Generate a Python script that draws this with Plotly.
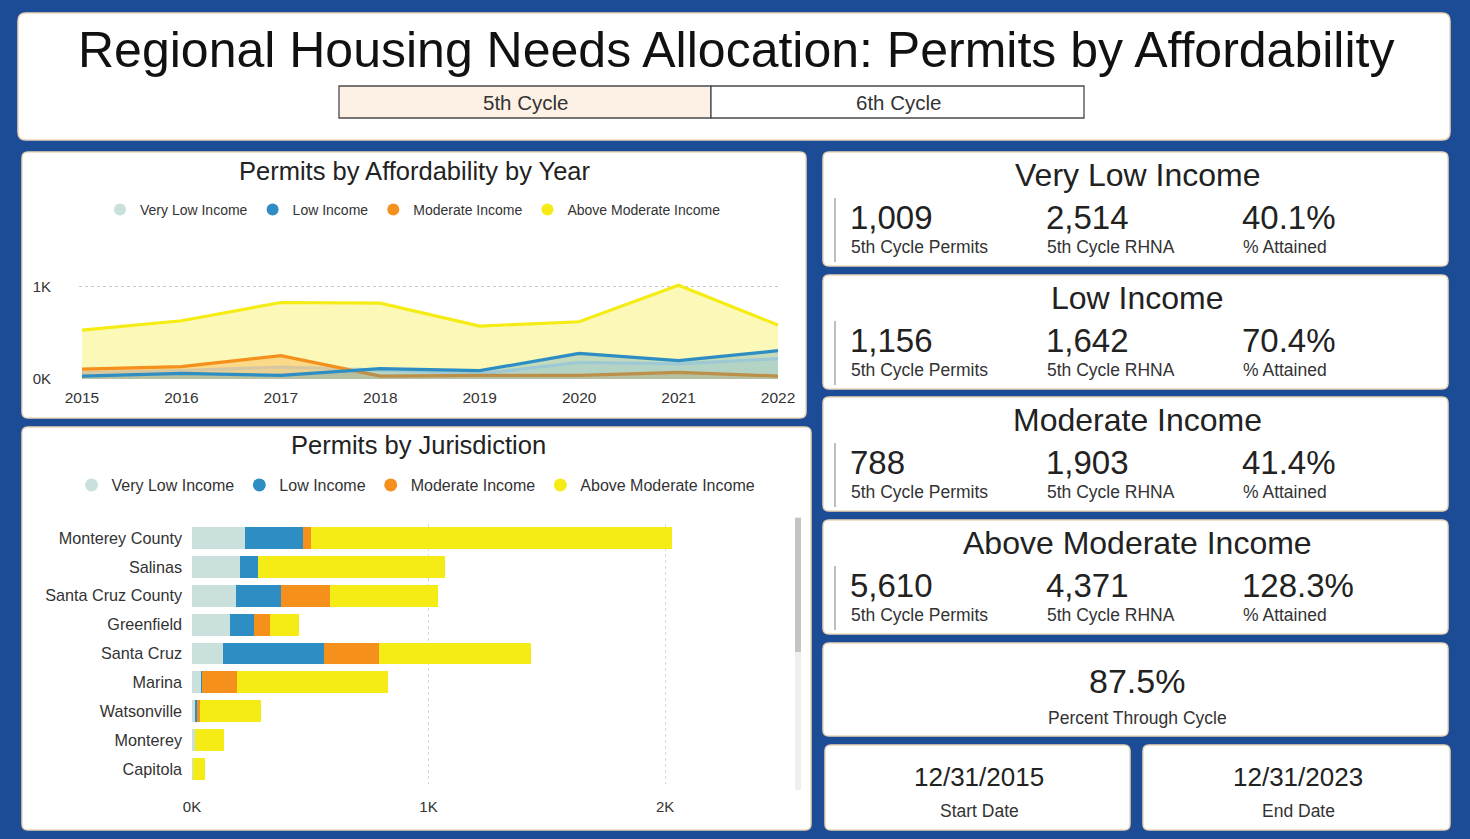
import plotly.graph_objects as go

# ---------------- data ----------------
years = [2015, 2016, 2017, 2018, 2019, 2020, 2021, 2022]
year_labels = ["2015", "2016", "2017", "2018", "2019", "2020", "2021", "2022"]
vli_year = [70, 90, 130, 100, 55, 180, 165, 220]
low_year = [32, 61, 40, 112, 90, 278, 199, 307]
mod_year = [108, 134, 253, 32, 40, 40, 72, 32]
ami_year = [531, 632, 830, 823, 574, 621, 1018, 585]

jurisdictions = ["Monterey County", "Salinas", "Santa Cruz County", "Greenfield",
                 "Santa Cruz", "Marina", "Watsonville", "Monterey", "Capitola"]
vli_j = [222, 203, 186, 162, 131, 39, 13, 13, 3]
low_j = [247, 77, 190, 100, 429, 5, 10, 0, 0]
mod_j = [35, 0, 209, 66, 231, 148, 10, 0, 0]
ami_j = [1526, 790, 454, 123, 644, 638, 258, 123, 52]

series_names = ["Very Low Income", "Low Income", "Moderate Income", "Above Moderate Income"]
series_colors = ["#c9e0dc", "#2e8ec3", "#f4901b", "#f4ec14"]
series_fills = ["rgba(201,224,220,0.40)", "rgba(46,142,195,0.28)",
                "rgba(244,144,27,0.30)", "rgba(244,236,20,0.30)"]

card_titles = ["Very Low Income", "Low Income", "Moderate Income", "Above Moderate Income"]
card_permits = ["1,009", "1,156", "788", "5,610"]
card_rhna = ["2,514", "1,642", "1,903", "4,371"]
card_attained = ["40.1%", "70.4%", "41.4%", "128.3%"]
card_sub = ["5th Cycle Permits", "5th Cycle RHNA", "% Attained"]

pct_through = "87.5%"
start_date = "12/31/2015"
end_date = "12/31/2023"

# ---------------- helpers ----------------
W, H = 1470, 839
FONT = "Arial, 'Liberation Sans', sans-serif"
BLUE = "#1d4c97"
DARK = "#222222"
GREY = "#333333"


def X(p):
    return p / W


def Y(p):
    return 1 - p / H


def rrect(x0, y0, x1, y1, r=6, fill="white", line="#ecd6b8", lw=1.5):
    path = (f"M {X(x0 + r)},{Y(y0)} L {X(x1 - r)},{Y(y0)} "
            f"Q {X(x1)},{Y(y0)} {X(x1)},{Y(y0 + r)} L {X(x1)},{Y(y1 - r)} "
            f"Q {X(x1)},{Y(y1)} {X(x1 - r)},{Y(y1)} L {X(x0 + r)},{Y(y1)} "
            f"Q {X(x0)},{Y(y1)} {X(x0)},{Y(y1 - r)} L {X(x0)},{Y(y0 + r)} "
            f"Q {X(x0)},{Y(y0)} {X(x0 + r)},{Y(y0)} Z")
    return dict(type="path", path=path, xref="paper", yref="paper",
                fillcolor=fill, line=dict(color=line, width=lw), layer="below")


def txt(x, y, s, size, color=DARK, anchor="center"):
    return dict(x=X(x), y=Y(y), xref="paper", yref="paper", text=s, showarrow=False,
                xanchor=anchor, yanchor="middle", font=dict(family=FONT, size=size, color=color))


fig = go.Figure()

# ---------------- line / area chart ----------------
year_series = [vli_year, low_year, mod_year, ami_year]
for i in [3, 0, 2, 1]:
    fig.add_trace(go.Scatter(
        x=years, y=year_series[i], mode="lines", name=series_names[i],
        line=dict(color=series_colors[i], width=3.2, shape="linear"),
        fill="tozeroy", fillcolor=series_fills[i], showlegend=False,
        xaxis="x", yaxis="y", hoverinfo="x+y+name"))

for i in range(4):
    fig.add_trace(go.Scatter(
        x=[None], y=[None], mode="markers", name=series_names[i],
        marker=dict(color=series_colors[i], size=12, symbol="circle"),
        legend="legend", xaxis="x", yaxis="y"))

# ---------------- stacked bar chart ----------------
jur_series = [vli_j, low_j, mod_j, ami_j]
for i in range(4):
    fig.add_trace(go.Bar(
        y=jurisdictions, x=jur_series[i], orientation="h", name=series_names[i],
        marker=dict(color=series_colors[i], line=dict(width=0)),
        showlegend=False, xaxis="x2", yaxis="y2"))

for i in range(4):
    fig.add_trace(go.Scatter(
        x=[None], y=[None], mode="markers", name=series_names[i],
        marker=dict(color=series_colors[i], size=13, symbol="circle"),
        legend="legend2", xaxis="x2", yaxis="y2"))

# ---------------- shapes (panels) ----------------
shapes = []
shapes.append(rrect(18, 13, 1450, 140, r=8))
shapes.append(rrect(22, 152, 806, 418))
shapes.append(rrect(22, 427, 811, 830))
card_tops = [152, 275, 397, 520]
for t in card_tops:
    shapes.append(rrect(823, t, 1448, t + 114))
shapes.append(rrect(823, 643, 1448, 736))
shapes.append(rrect(825, 745, 1130, 830))
shapes.append(rrect(1143, 745, 1450, 830))

# cycle buttons
shapes.append(dict(type="rect", xref="paper", yref="paper", x0=X(339), x1=X(711), y0=Y(86), y1=Y(118),
                   fillcolor="#fdf0e4", line=dict(color="#4a4a4a", width=1.3), layer="below"))
shapes.append(dict(type="rect", xref="paper", yref="paper", x0=X(711), x1=X(1084), y0=Y(86), y1=Y(118),
                   fillcolor="white", line=dict(color="#4a4a4a", width=1.3), layer="below"))

# card accent lines
for t in card_tops:
    shapes.append(dict(type="line", xref="paper", yref="paper", x0=X(835), x1=X(835),
                       y0=Y(t + 46), y1=Y(t + 110), line=dict(color="#a9a9a9", width=1.5)))

# scrollbar of jurisdiction chart
shapes.append(dict(type="line", xref="paper", yref="paper", x0=X(798), x1=X(798), y0=Y(517), y1=Y(790),
                   line=dict(color="#efefef", width=6), layer="below"))
shapes.append(dict(type="line", xref="paper", yref="paper", x0=X(798), x1=X(798), y0=Y(518), y1=Y(652),
                   line=dict(color="#c4c4c4", width=6), layer="below"))

# ---------------- annotations ----------------
ann = []
ann.append(txt(736, 50, "Regional Housing Needs Allocation: Permits by Affordability", 50, "#111111"))
ann.append(txt(525, 102, "5th Cycle", 20.5, GREY))
ann.append(txt(898, 102, "6th Cycle", 20.5, GREY))
ann.append(txt(415, 171, "Permits by Affordability by Year", 25.5, DARK))
ann.append(txt(418, 445, "Permits by Jurisdiction", 25.5, DARK))

col_x = [850, 1046, 1242]
for k, t in enumerate(card_tops):
    ann.append(txt(1137, t + 23, card_titles[k], 32, DARK))
    vals = [card_permits[k], card_rhna[k], card_attained[k]]
    for c in range(3):
        ann.append(txt(col_x[c] - 2, t + 65, vals[c], 33, DARK, "left"))
        ann.append(txt(col_x[c] - 1, t + 95, card_sub[c], 17.5, GREY, "left"))

ann.append(txt(1137, 681, pct_through, 34, DARK))
ann.append(txt(1137, 718, "Percent Through Cycle", 17.5, GREY))
ann.append(txt(979, 777, start_date, 26, DARK))
ann.append(txt(979, 811, "Start Date", 17.5, GREY))
ann.append(txt(1298, 777, end_date, 26, DARK))
ann.append(txt(1298, 811, "End Date", 17.5, GREY))

# ---------------- layout ----------------
fig.update_layout(
    width=W, height=H, autosize=False,
    margin=dict(l=0, r=0, t=0, b=0, autoexpand=False),
    paper_bgcolor=BLUE, plot_bgcolor="rgba(0,0,0,0)",
    font=dict(family=FONT, color=GREY),
    shapes=shapes, annotations=ann,
    barmode="stack", bargap=0.24,
    xaxis=dict(domain=[X(79), X(781)], range=[2014.97, 2022.03], tickvals=years, ticktext=year_labels,
               showgrid=False, zeroline=False, showline=False, ticks="", automargin=False,
               ticklabelstandoff=7, tickfont=dict(size=15.5, color=GREY), fixedrange=True),
    yaxis=dict(domain=[Y(379), Y(273)], range=[0, 1150], tickvals=[0, 1000], ticktext=["0K", "1K"],
               showgrid=True, gridcolor="#c8c8c8", griddash="dot", gridwidth=1, automargin=False,
               zeroline=False, showline=False, ticks="", ticklabelstandoff=27,
               tickfont=dict(size=15, color=GREY), fixedrange=True),
    xaxis2=dict(domain=[X(192), X(785)], range=[0, 2507], tickvals=[0, 1000, 2000],
                ticktext=["0K", "1K", "2K"], showgrid=True, gridcolor="#d8d8d8", griddash="dot",
                zeroline=False, showline=False, ticks="", ticklabelstandoff=12, automargin=False,
                tickfont=dict(size=15, color=GREY), anchor="y2", fixedrange=True),
    yaxis2=dict(domain=[Y(783.5), Y(523.5)], autorange="reversed", type="category",
                categoryorder="array", categoryarray=jurisdictions, automargin=False,
                showgrid=False, zeroline=False, showline=False, ticks="", ticklabelstandoff=9,
                tickfont=dict(size=16.2, color=GREY), anchor="x2", fixedrange=True),
    legend=dict(orientation="h", x=X(413), xanchor="center", y=Y(210), yanchor="middle",
                font=dict(size=14, color=GREY, family=FONT), bgcolor="rgba(0,0,0,0)",
                traceorder="normal", itemwidth=30, itemclick=False, itemdoubleclick=False),
    legend2=dict(orientation="h", x=X(416), xanchor="center", y=Y(485), yanchor="middle",
                 font=dict(size=16, color=GREY, family=FONT), bgcolor="rgba(0,0,0,0)",
                 traceorder="normal", itemwidth=30, itemclick=False, itemdoubleclick=False),
    hovermode="closest",
)

fig.write_html("out.html", config={"displayModeBar": False},
               post_script="document.body.style.margin='0';document.body.style.overflow='hidden';")
